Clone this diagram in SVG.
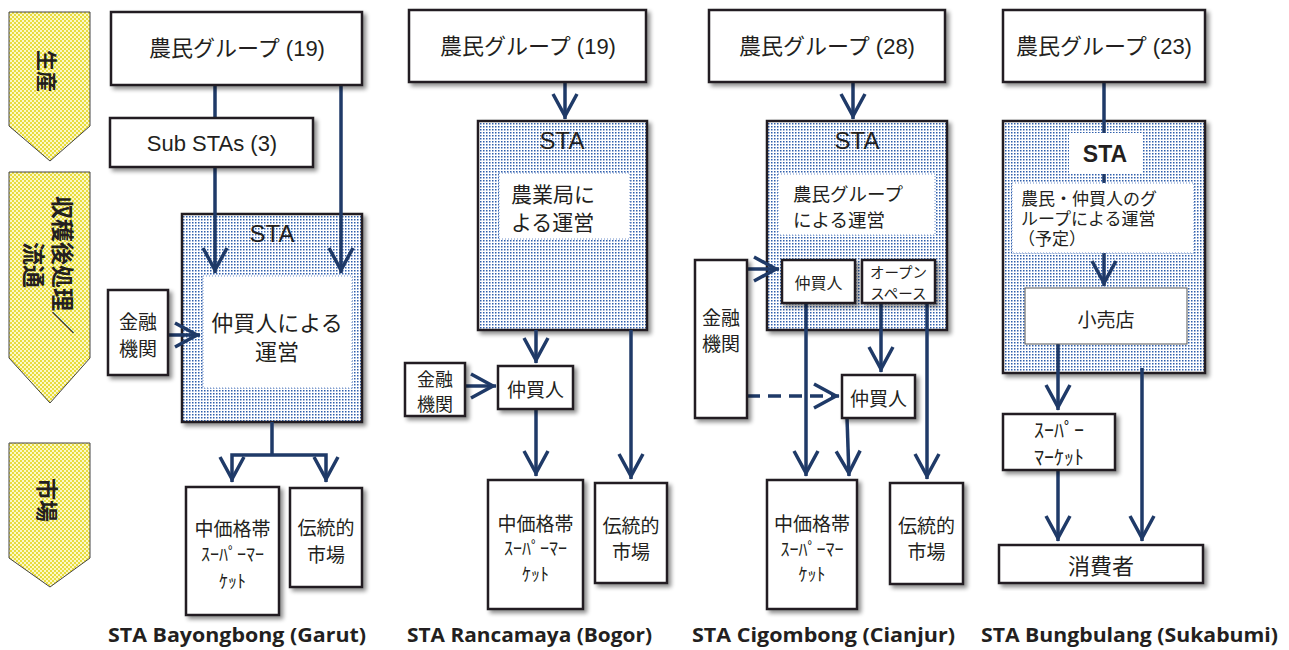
<svg xmlns="http://www.w3.org/2000/svg" width="1289" height="650" viewBox="0 0 1289 650">
<defs>
  <pattern id="dots" width="3" height="3" patternUnits="userSpaceOnUse">
    <rect width="3" height="3" fill="#ffffff"/>
    <rect width="1.5" height="1.5" fill="#2f5eac"/>
  </pattern>
  <pattern id="check" width="4" height="4" patternUnits="userSpaceOnUse">
    <rect width="4" height="4" fill="#fbf8c8"/>
    <rect width="2" height="2" fill="#e8dc3c"/>
    <rect x="2" y="2" width="2" height="2" fill="#e8dc3c"/>
  </pattern>
  <filter id="sh" x="-10%" y="-10%" width="130%" height="130%">
    <feGaussianBlur in="SourceAlpha" stdDeviation="2"/>
    <feOffset dx="3" dy="3" result="o"/>
    <feComponentTransfer><feFuncA type="linear" slope="0.45"/></feComponentTransfer>
    <feMerge><feMergeNode/><feMergeNode in="SourceGraphic"/></feMerge>
  </filter>
  <marker id="ah" markerUnits="userSpaceOnUse" markerWidth="30" markerHeight="30" viewBox="-28 -15 30 30" refX="0" refY="0" orient="auto" overflow="visible">
    <path d="M-25,-12 L-3,0 L-25,12" fill="none" stroke="#1f3a68" stroke-width="3.5"/>
  </marker>
  <style>
    .box { fill:#fff; stroke:#231f20; stroke-width:2.5; filter:url(#sh); }
    .sta { fill:url(#dots); stroke:#231f20; stroke-width:2.5; filter:url(#sh); }
    .inner { fill:#fff; stroke:#6d8fcb; stroke-width:1; stroke-dasharray:1 2; }
    .thin { fill:#fff; stroke:#555; stroke-width:1; }
    .phase { fill:url(#check); stroke:#444; stroke-width:1; }
    .conn { stroke:#1f3a68; stroke-width:3.5; fill:none; }
    .arr { marker-end:url(#ah); }
    .dash { stroke-dasharray:13 8; }
    .t { font-family:"Liberation Sans","Noto Sans CJK JP",sans-serif; fill:#231f20; text-anchor:middle; dominant-baseline:central; }
    .jp { font-family:"Noto Sans CJK JP",sans-serif; }
    .l { text-anchor:start; }
    .ph { font-family:"Noto Sans CJK JP",sans-serif; font-weight:700; fill:#231f20; text-anchor:middle; dominant-baseline:central; }
    .cap { font-family:"Open Sans",sans-serif; font-weight:700; font-size:20px; fill:#231f20; }
  </style>
</defs>

<!-- phase arrows -->
<g id="phase-production">
  <polygon class="phase" points="9,12 90,12 90,126 50,161 9,126"/>
  <text class="ph" font-size="21" transform="translate(48,71) rotate(90)">生産</text>
</g>
<g id="phase-distribution">
  <polygon class="phase" points="9,172 90,172 90,358 50,403 9,358"/>
  <g transform="translate(49.5,265) rotate(90)">
    <text class="ph" font-size="23" x="0" y="-14.5">収穫後処理／</text>
    <text class="ph" font-size="23" x="0" y="14.5">流通</text>
  </g>
</g>
<g id="phase-market">
  <polygon class="phase" points="9,443 90,443 90,558 50,587 9,558"/>
  <text class="ph" font-size="22" transform="translate(49,500) rotate(90)">市場</text>
</g>

<!-- STA containers -->
<g id="sta-garut"><rect class="sta" x="182" y="214" width="180" height="208"/><text class="t" x="272" y="233" font-size="24">STA</text></g>
<g id="sta-bogor"><rect class="sta" x="478" y="121" width="169" height="209"/><text class="t" x="562" y="140" font-size="24">STA</text></g>
<g id="sta-cianjur"><rect class="sta" x="767" y="121" width="180" height="209"/><text class="t" x="857" y="140" font-size="24">STA</text></g>
<g id="sta-sukabumi"><rect class="sta" x="1003" y="121" width="202" height="252"/></g>

<!-- connectors -->
<g id="connectors">
  <!-- Garut -->
  <path class="conn" d="M215,85 V118"/>
  <path class="conn arr" d="M215,167 V273"/>
  <path class="conn arr" d="M341,85 V273"/>
  <path class="conn arr" d="M168,335 H200"/>
  <path class="conn" d="M272,422 V455"/>
  <path class="conn arr" d="M272,455 H232 V482"/>
  <path class="conn arr" d="M272,455 H326 V482"/>
  <!-- Bogor -->
  <path class="conn arr" d="M565,82 V119"/>
  <path class="conn arr" d="M536,330 V363"/>
  <path class="conn arr" d="M465,386 H496"/>
  <path class="conn arr" d="M536,409 V476"/>
  <path class="conn arr" d="M631,330 V479"/>
  <!-- Cianjur -->
  <path class="conn arr" d="M853,82 V119"/>
  <path class="conn arr" d="M747,269 H779"/>
  <path class="conn arr dash" d="M747,396 H839"/>
  <path class="conn arr" d="M881,303 V372"/>
  <path class="conn arr" d="M806,303 V476"/>
  <path class="conn arr" d="M847,418 L849,476"/>
  <path class="conn arr" d="M927,303 V479"/>
  <!-- Sukabumi -->
  <path class="conn arr" d="M1104,82 V286"/>
  <path class="conn arr" d="M1058,344 V410"/>
  <path class="conn arr" d="M1142,368 V541"/>
  <path class="conn arr" d="M1058,470 V541"/>
</g>

<!-- Garut nodes -->
<g id="garut-farmers"><rect class="box" x="111" y="12" width="251" height="73"/><text class="t" x="237" y="48" font-size="22">農民グループ (19)</text></g>
<g id="garut-substas"><rect class="box" x="110" y="118" width="203" height="49"/><text class="t" x="212" y="143" font-size="22">Sub STAs (3)</text></g>
<g id="garut-inner"><rect class="inner" x="203" y="276" width="149" height="112"/>
  <text class="t jp" x="277" y="321" font-size="22">仲買人による</text>
  <text class="t jp" x="277" y="350" font-size="22">運営</text></g>
<g id="garut-finance"><rect class="box" x="108" y="290" width="60" height="85"/>
  <text class="t jp" x="138" y="320" font-size="19">金融</text>
  <text class="t jp" x="138" y="347" font-size="19">機関</text></g>
<g id="garut-super"><rect class="box" x="186" y="487" width="93" height="128"/>
  <text class="t jp" x="232.5" y="527" font-size="19">中価格帯</text>
  <text class="t jp" x="232.5" y="553" font-size="18">ｽｰﾊﾟｰﾏｰ</text>
  <text class="t jp" x="232.5" y="580" font-size="18">ｹｯﾄ</text></g>
<g id="garut-market"><rect class="box" x="290" y="488" width="72" height="99"/>
  <text class="t jp" x="326" y="526" font-size="19">伝統的</text>
  <text class="t jp" x="326" y="553" font-size="19">市場</text></g>

<!-- Bogor nodes -->
<g id="bogor-farmers"><rect class="box" x="409" y="10" width="237" height="72"/><text class="t" x="528" y="46" font-size="22">農民グループ (19)</text></g>
<g id="bogor-inner"><rect class="inner" x="499" y="173" width="131" height="66"/>
  <text class="t jp l" x="511" y="193" font-size="21">農業局に</text>
  <text class="t jp l" x="511" y="221" font-size="21">よる運営</text></g>
<g id="bogor-broker"><rect class="box" x="498" y="366" width="75" height="43"/><text class="t jp" x="535.5" y="388" font-size="19">仲買人</text></g>
<g id="bogor-finance"><rect class="box" x="405" y="363" width="60" height="53"/>
  <text class="t jp" x="435" y="378" font-size="18">金融</text>
  <text class="t jp" x="435" y="403" font-size="18">機関</text></g>
<g id="bogor-super"><rect class="box" x="488" y="480" width="95" height="129"/>
  <text class="t jp" x="535.5" y="522" font-size="19">中価格帯</text>
  <text class="t jp" x="535.5" y="547" font-size="18">ｽｰﾊﾟｰﾏｰ</text>
  <text class="t jp" x="535.5" y="573" font-size="18">ｹｯﾄ</text></g>
<g id="bogor-market"><rect class="box" x="595" y="483" width="72" height="100"/>
  <text class="t jp" x="631" y="524" font-size="19">伝統的</text>
  <text class="t jp" x="631" y="550" font-size="19">市場</text></g>

<!-- Cianjur nodes -->
<g id="cianjur-farmers"><rect class="box" x="709" y="10" width="236" height="72"/><text class="t" x="827" y="46" font-size="22">農民グループ (28)</text></g>
<g id="cianjur-inner"><rect class="inner" x="778" y="174" width="157" height="61"/>
  <text class="t jp l" x="793" y="193" font-size="18.5">農民グループ</text>
  <text class="t jp l" x="793" y="219" font-size="18.5">による運営</text></g>
<g id="cianjur-broker-in"><rect class="box" x="782" y="260" width="73" height="43"/><text class="t jp" x="818.5" y="282" font-size="16">仲買人</text></g>
<g id="cianjur-open"><rect class="box" x="862" y="260" width="73" height="43"/>
  <text class="t jp" x="898.5" y="271" font-size="14.5">オープン</text>
  <text class="t jp" x="898.5" y="292" font-size="14.5">スペース</text></g>
<g id="cianjur-finance"><rect class="box" x="695" y="260" width="52" height="158"/>
  <text class="t jp" x="721" y="316" font-size="19">金融</text>
  <text class="t jp" x="721" y="342" font-size="19">機関</text></g>
<g id="cianjur-broker-out"><rect class="box" x="842" y="375" width="73" height="43"/><text class="t jp" x="878.5" y="397" font-size="19">仲買人</text></g>
<g id="cianjur-super"><rect class="box" x="767" y="480" width="90" height="129"/>
  <text class="t jp" x="812" y="522" font-size="19">中価格帯</text>
  <text class="t jp" x="812" y="548" font-size="18">ｽｰﾊﾟｰﾏｰ</text>
  <text class="t jp" x="812" y="573" font-size="18">ｹｯﾄ</text></g>
<g id="cianjur-market"><rect class="box" x="890" y="483" width="73" height="101"/>
  <text class="t jp" x="926.5" y="524" font-size="19">伝統的</text>
  <text class="t jp" x="926.5" y="550" font-size="19">市場</text></g>

<!-- Sukabumi nodes -->
<g id="sukabumi-farmers"><rect class="box" x="1003" y="10" width="202" height="72"/><text class="t" x="1104" y="46" font-size="22">農民グループ (23)</text></g>
<g id="sukabumi-sta-label"><rect x="1069" y="133" width="73" height="41" fill="#fff"/><text class="t" x="1105" y="154" font-size="23" font-weight="700">STA</text></g>
<g id="sukabumi-inner"><rect class="inner" x="1012" y="183" width="182" height="70"/>
  <text class="t jp l" x="1021" y="197" font-size="17">農民・仲買人のグ</text>
  <text class="t jp l" x="1021" y="217" font-size="17">ループによる運営</text>
  <text class="t jp l" x="1018" y="237" font-size="17">（予定）</text></g>
<g id="sukabumi-retail"><rect class="thin" x="1025" y="288" width="162" height="56"/><text class="t jp" x="1106" y="318" font-size="19">小売店</text></g>
<g id="sukabumi-super"><rect class="box" x="1003" y="414" width="112" height="56"/>
  <text class="t jp" x="1059" y="429" font-size="20">ｽｰﾊﾟｰ</text>
  <text class="t jp" x="1059" y="456" font-size="20">ﾏｰｹｯﾄ</text></g>
<g id="sukabumi-consumer"><rect class="box" x="999" y="545" width="204" height="38"/><text class="t jp" x="1101" y="564" font-size="22">消費者</text></g>

<!-- captions -->
<g id="captions">
  <text class="cap" x="108" y="642" textLength="258" lengthAdjust="spacingAndGlyphs">STA Bayongbong (Garut)</text>
  <text class="cap" x="407" y="642" textLength="245" lengthAdjust="spacingAndGlyphs">STA Rancamaya (Bogor)</text>
  <text class="cap" x="692" y="642" textLength="263" lengthAdjust="spacingAndGlyphs">STA Cigombong (Cianjur)</text>
  <text class="cap" x="981" y="642" textLength="297" lengthAdjust="spacingAndGlyphs">STA Bungbulang (Sukabumi)</text>
</g>
</svg>
